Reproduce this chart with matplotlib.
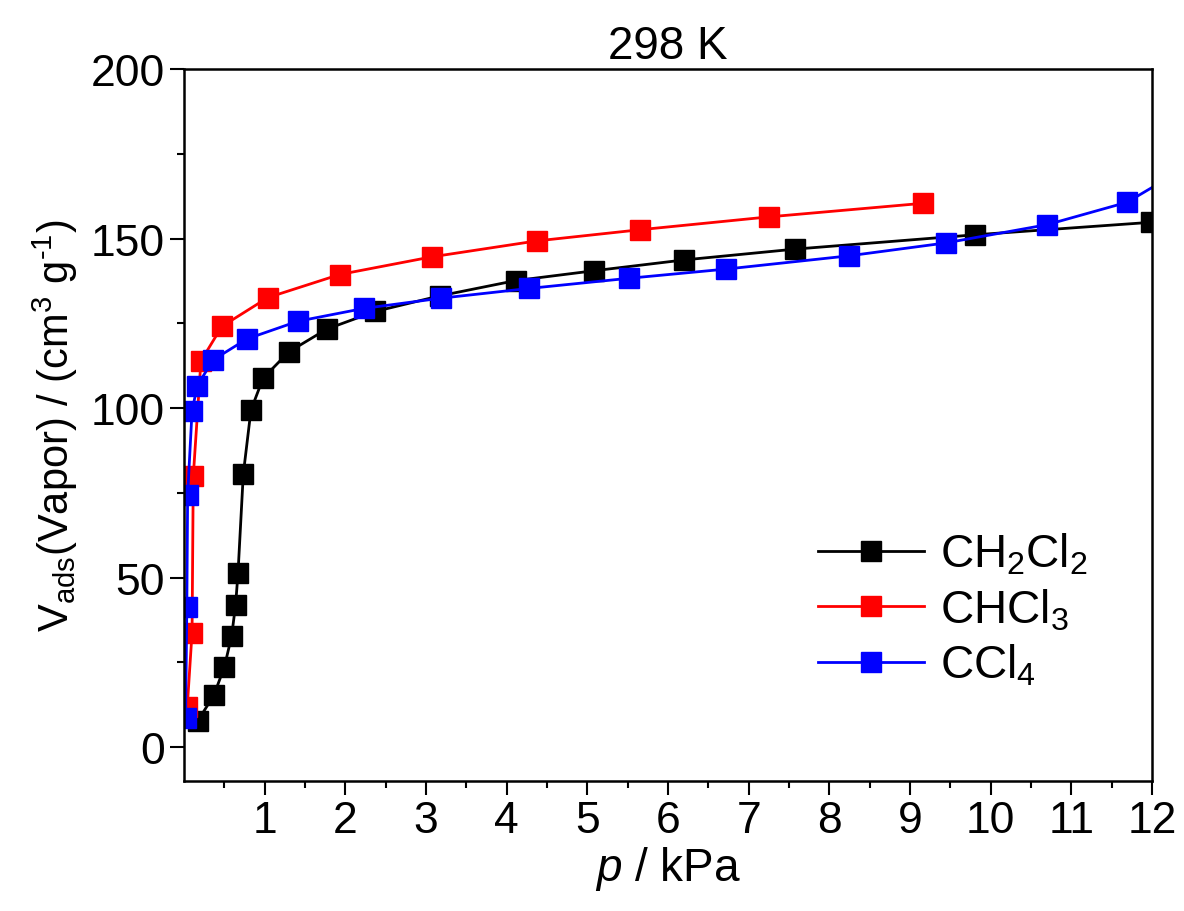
import numpy as np
from matplotlib import pyplot as plt

plt.rcParams['font.family'] = ['Liberation Sans', 'DejaVu Sans']
plt.rcParams['mathtext.fontset'] = 'custom'
plt.rcParams['mathtext.rm'] = 'Liberation Sans'
plt.rcParams['mathtext.it'] = 'Liberation Sans:italic'
plt.rcParams['mathtext.default'] = 'regular'

# CH2Cl2
p_ch2cl2 = [0.17, 0.37, 0.50, 0.59, 0.64, 0.67, 0.735, 0.83, 0.98, 1.30, 1.77,
            2.37, 3.17, 4.11, 5.08, 6.20, 7.58, 9.80, 11.99]
v_ch2cl2 = [7.7, 15.3, 23.6, 32.7, 42.0, 51.5, 80.5, 99.4, 108.8, 116.6, 123.3,
            128.5, 133.1, 137.6, 140.5, 143.7, 146.9, 151.1, 154.8]

# CHCl3
p_chcl3 = [0.04, 0.10, 0.115, 0.21, 0.47, 1.04, 1.93, 3.07, 4.37, 5.65, 7.25, 9.16]
v_chcl3 = [11.7, 33.8, 79.9, 113.9, 124.1, 132.6, 139.4, 144.6, 149.3, 152.6, 156.4, 160.4]

# CCl4
p_ccl4 = [0.02, 0.035, 0.045, 0.10, 0.165, 0.36, 0.78, 1.41, 2.23, 3.18, 4.28,
          5.52, 6.72, 8.24, 9.44, 10.70, 11.69, 12.6]
v_ccl4 = [8.5, 41.2, 74.3, 99.2, 106.6, 114.2, 120.4, 125.6, 129.4, 132.4, 135.3,
          138.3, 141.0, 144.9, 148.7, 154.1, 160.7, 173.5]

fig = plt.figure(figsize=(11.84, 9.12), dpi=100)
ax = fig.add_axes([0.1554, 0.1425, 0.8176, 0.7807])

ax.plot(p_ch2cl2, v_ch2cl2, color='black', marker='s', markersize=14.5, linewidth=2, label='CH$_2$Cl$_2$')
ax.plot(p_chcl3, v_chcl3, color='red', marker='s', markersize=14.5, linewidth=2, label='CHCl$_3$')
ax.plot(p_ccl4, v_ccl4, color='blue', marker='s', markersize=14.5, linewidth=2, label='CCl$_4$')

ax.set_xlim(0, 12)
ax.set_ylim(-10, 200)
ax.set_xticks(np.arange(1, 13, 1))
ax.set_xticks(np.arange(0.5, 12.5, 1), minor=True)
ax.set_yticks([0, 50, 100, 150, 200])
ax.set_yticks([25, 75, 125, 175], minor=True)
ax.tick_params(which='major', length=10, width=1.5, labelsize=32, direction='out')
ax.tick_params(which='minor', length=5, width=1.5, direction='out')
for s in ax.spines.values():
    s.set_linewidth(1.8)

ax.set_xlabel('$\\mathit{p}$ / kPa', fontsize=33, labelpad=2)
ax.set_ylabel('V$_{ads}$(Vapor) / (cm$^3$ g$^{\\text{-}1}$)', fontsize=30, labelpad=8)
ax.set_title('298 K', fontsize=33, pad=8)

ax.legend(loc='lower right', bbox_to_anchor=(0.976, 0.073), frameon=False, fontsize=33,
          handlelength=2.3, handletextpad=0.35, labelspacing=0.22)

plt.savefig('out.png', dpi=100)
